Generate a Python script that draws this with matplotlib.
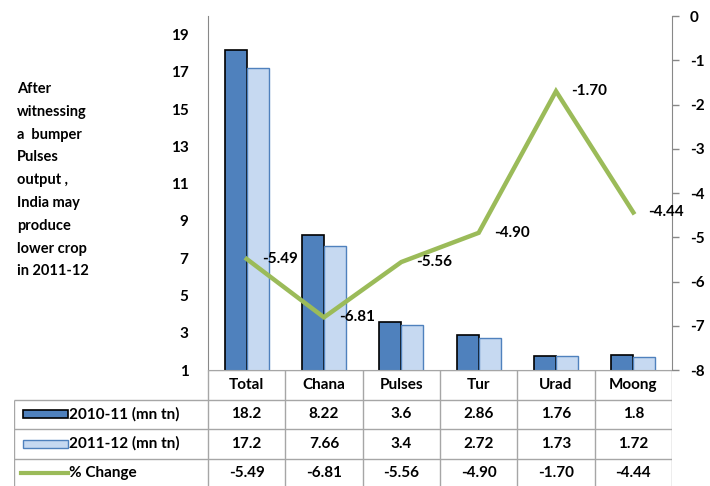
import matplotlib.pyplot as plt
from matplotlib.patches import Rectangle
from matplotlib.lines import Line2D

# pulses production, India
crops = ['Total', 'Chana', 'Pulses', 'Tur', 'Urad', 'Moong']
prod_2010 = [18.2, 8.22, 3.6, 2.86, 1.76, 1.8]
prod_2011 = [17.2, 7.66, 3.4, 2.72, 1.73, 1.72]
pct_change = [-5.49, -6.81, -5.56, -4.90, -1.70, -4.44]
series_names = ['2010-11 (mn tn)', '2011-12 (mn tn)', '% Change']
note = 'After\nwitnessing\na  bumper\nPulses\noutput ,\nIndia may\nproduce\nlower crop\nin 2011-12'

plt.rcParams['font.family'] = ['Lato', 'DejaVu Sans']
plt.rcParams['font.weight'] = 'bold'
plt.rcParams['axes.unicode_minus'] = False

dark = '#4f81bd'
light = '#c6d9f1'
green = '#9bbb59'
grid_c = '#a6a6a6'
fs = 11

W, H = 710, 486
fig = plt.figure(figsize=(W / 100, H / 100), dpi=100)

x0, x1, ytop, ybot = 208, 672, 16, 370
ax = fig.add_axes([x0 / W, 1 - ybot / H, (x1 - x0) / W, (ybot - ytop) / H])
ax2 = ax.twinx()

x = list(range(len(crops)))
bw = 0.285
ax.bar([i - bw / 2 for i in x], prod_2010, bw, color=dark, edgecolor='black', linewidth=1.2)
ax.bar([i + bw / 2 for i in x], prod_2011, bw, color=light, edgecolor=dark, linewidth=1.0)
ax.set_xlim(-0.5, len(crops) - 0.5)
ax.set_ylim(1, 20)
ax.set_yticks(range(1, 20, 2))
ax.tick_params(axis='y', length=0, pad=14, labelsize=fs)
ax.set_xticks([])
for s in ['top', 'right']:
    ax.spines[s].set_visible(False)
ax.spines['left'].set_color('#888888')
ax.spines['bottom'].set_color(grid_c)

ax2.plot(x, pct_change, color=green, linewidth=3.2, solid_joinstyle='miter')
ax2.set_ylim(-8, 0)
ax2.set_yticks(range(0, -9, -1))
ax2.tick_params(axis='y', length=5, width=1, color='#888888', pad=8, labelsize=fs)
for s in ['top', 'left', 'bottom']:
    ax2.spines[s].set_visible(False)
ax2.spines['right'].set_color('#888888')
for i, v in enumerate(pct_change):
    ax2.annotate(f'{v:.2f}', (i, v), xytext=(11, 0), textcoords='offset points',
                 ha='left', va='center', fontsize=fs, fontweight='bold')

# side note
fig.text(17 / W, 1 - 82 / H, note, ha='left', va='top', fontsize=10.5,
         fontweight='bold', linespacing=1.8)

# data table under the plot
left_px = 14
row_h = 29.5
nrows = 4
tax = fig.add_axes([left_px / W, 1 - (ybot + nrows * row_h) / H,
                    (x1 - left_px) / W, nrows * row_h / H])
xl = -0.5 - (x0 - left_px) / ((x1 - x0) / len(crops))
tax.set_xlim(xl, len(crops) - 0.5)
tax.set_ylim(nrows, 0)
tax.axis('off')

lw = 1.0
tax.hlines(0, -0.5, len(crops) - 0.5, color=grid_c, lw=lw)
tax.hlines(range(1, nrows), xl, len(crops) - 0.5, color=grid_c, lw=lw)
tax.vlines([i - 0.5 for i in range(len(crops) + 1)], 0, nrows, color=grid_c, lw=lw)
tax.vlines(xl, 1, nrows, color=grid_c, lw=lw)

for i, c in enumerate(crops):
    tax.text(i, 0.5, c, ha='center', va='center', fontsize=fs, fontweight='bold')
    tax.text(i, 1.5, f'{prod_2010[i]:g}', ha='center', va='center', fontsize=fs, fontweight='bold')
    tax.text(i, 2.5, f'{prod_2011[i]:g}', ha='center', va='center', fontsize=fs, fontweight='bold')
    tax.text(i, 3.5, f'{pct_change[i]:.2f}', ha='center', va='center', fontsize=fs, fontweight='bold')

px = (x1 - x0) / len(crops)
sw0 = -0.5 + (23 - x0) / px
sw1 = -0.5 + (68 - x0) / px
lab_x = -0.5 + (69 - x0) / px
sh = 0.28
tax.add_patch(Rectangle((sw0, 1.5 - sh / 2), sw1 - sw0, sh, facecolor=dark,
                        edgecolor='black', lw=1.2))
tax.add_patch(Rectangle((sw0, 2.5 - sh / 2), sw1 - sw0, sh, facecolor=light,
                        edgecolor=dark, lw=1.0))
tax.add_line(Line2D([sw0 - 0.03, sw1], [3.5, 3.5], color=green, lw=3))
for r, name in enumerate(series_names):
    tax.text(lab_x, 1.5 + r, name, ha='left', va='center', fontsize=fs, fontweight='bold')

plt.savefig('out.png', dpi=100)
